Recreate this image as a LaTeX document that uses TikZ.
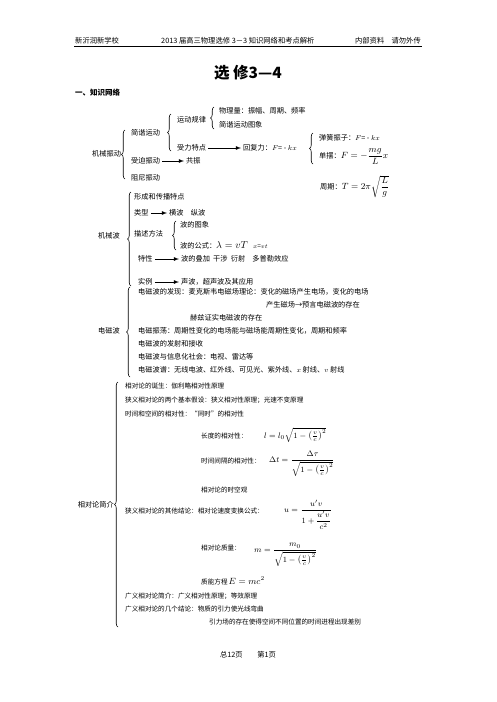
\documentclass[tikz,border=0pt]{standalone}
\usepackage{amsmath}
\usepackage{fontspec}
\setmainfont{Noto Sans CJK SC}
\usetikzlibrary{decorations.pathreplacing}
\tikzset{
  txt/.style={anchor=west,inner sep=0pt,font=\fontsize{7.2}{8}\selectfont},
  sml/.style={anchor=west,inner sep=0pt,font=\fontsize{6.6}{8}\selectfont},
  frm/.style={anchor=west,inner sep=0pt,font=\fontsize{8}{9}\selectfont},
  hdr/.style={anchor=west,inner sep=0pt,font=\fontsize{7.3}{8}\selectfont},
  brc/.style={decorate,decoration={brace,amplitude=3.5pt},line width=0.6pt},
  arr/.style={-latex,line width=0.8pt,shorten <=2pt,shorten >=2pt},
}
\newcommand{\vc}{\bigl(\tfrac{v}{c}\bigr)^{2}}
\begin{document}
\begin{tikzpicture}[x=1pt,y=-1pt]
\useasboundingbox (0,0) rectangle (496,702);
    % header
    \node[hdr] (sch) at (75,41) {新沂润新学校};
    \node[hdr] (ttlh) at (161,41) {2013 届高三物理选修 3－3 知识网络和考点解析};
    \node[hdr,anchor=east] (nbzl) at (421,41) {内部资料\quad 请勿外传};
    \draw[line width=0.8pt] (74,46.5) -- (422,46.5);
    \node[font=\fontsize{15.5}{16}\selectfont\bfseries] (ttl) at (248,73) {选\ 修3—4};
    \node[txt,font=\fontsize{7.5}{8}\selectfont\bfseries] (sec) at (75,93) {一、知识网络};
    % jixie zhendong
    \node[txt] (jxzd) at (92,154) {机械振动};
    \draw[brc] (125,179) -- (125,130);
    \node[txt] (jyyd) at (131,133) {简谐运动};
    \node[txt] (szzd) at (131,161) {受迫振动};
    \node[txt] (zndd) at (131,178) {阻尼振动};
    \node[txt] (gz) at (186,161) {共振};
    \draw[arr] (szzd) -- (gz);
    \draw[brc] (171,151) -- (171,114);
    \node[txt] (ydgl) at (177,120) {运动规律};
    \node[txt] (sltd) at (177,148) {受力特点};
    \draw[brc] (214,129) -- (214,107);
    \node[txt] (wll) at (219,111) {物理量：振幅、周期、频率};
    \node[txt] (jytx) at (219,125) {简谐运动图象};
    \node[txt] (hfl) at (243,148) {回复力：$F$= - $kx$};
    \draw[arr] (sltd) -- (hfl);
    \draw[brc] (313,164) -- (313,133);
    \node[txt] (thzz) at (319,138) {弹簧振子：$F$= - $kx$};
    \node[frm] (danb) at (319,157) {\fontsize{7.2}{8}\selectfont 单摆：\fontsize{8.6}{10}\selectfont$F=-\dfrac{mg}{L}x$};
    \node[frm] (zq) at (320,187) {\fontsize{7.2}{8}\selectfont 周期：\fontsize{8.6}{10}\selectfont$T=2\pi\sqrt{\dfrac{L}{g}}$};
    % jixie bo
    \node[txt] (jxb) at (98,236) {机械波};
    \draw[brc] (131,286) -- (131,192);
    \node[txt] (xccb) at (134,197) {形成和传播特点};
    \node[txt] (lx) at (134,213) {类型};
    \node[txt] (hbzb) at (169,213) {横波\quad 纵波};
    \draw[arr] (lx) -- (hbzb);
    \node[txt] (msff) at (134,234) {描述方法};
    \draw[brc] (176,250) -- (176,221);
    \node[txt] (bdtx) at (180,225) {波的图象};
    \node[txt] (bdgs) at (180,245) {波的公式：\fontsize{10}{11}\selectfont$\lambda=vT$};
    \node[txt,font=\fontsize{6.5}{7}\selectfont] (xvt) at (253,247) {$x$=$vt$};
    \node[txt] (tx) at (138,259) {特性};
    \node[txt] (tedj) at (181,259) {波的叠加\ \ 干涉\ \ 衍射\quad 多普勒效应};
    \draw[arr] (tx) -- (tedj);
    \node[txt] (sl) at (138,282) {实例};
    \node[txt] (sb) at (181,282) {声波，超声波及其应用};
    \draw[arr] (sl) -- (sb);
    % dianci bo
    \node[txt] (dcb) at (98,331) {电磁波};
    \draw[brc] (130,377) -- (130,287);
    \node[txt] (fx) at (138,292) {电磁波的发现：麦克斯韦电磁场理论：变化的磁场产生电场，变化的电场};
    \node[txt] (csc) at (266,305) {产生磁场→预言电磁波的存在};
    \node[txt] (hz) at (190,318) {赫兹证实电磁波的存在};
    \node[txt] (zd) at (138,331) {电磁振荡：周期性变化的电场能与磁场能周期性变化，周期和频率};
    \node[txt] (fs) at (138,344) {电磁波的发射和接收};
    \node[txt] (xx) at (138,357) {电磁波与信息化社会：电视、雷达等};
    \node[txt] (bp) at (138,370) {电磁波谱：无线电波、红外线、可见光、紫外线、$x$ 射线、$v$ 射线};
    % xiangduilun
    \node[txt,anchor=east] (xdl) at (114,505) {相对论简介};
    \draw[brc] (118,627) -- (118,382);
    \node[sml] (dsl) at (125,386) {相对论的诞生：伽利略相对性原理};
    \node[sml] (jbjs) at (125,400) {狭义相对论的两个基本假设：狭义相对性原理；光速不变原理};
    \node[sml] (tsxd) at (125,414) {时间和空间的相对性：“同时”的相对性};
    \node[sml] (cdxd) at (201,436) {长度的相对性：};
    \node[frm] (cdgs) at (264,435) {$l=l_0\sqrt{1-\vc}$};
    \node[sml] (sjxd) at (201,461) {时间间隔的相对性：};
    \node[frm] (sjgs) at (269,464) {$\Delta t=\dfrac{\Delta\tau}{\sqrt{1-\vc}}$};
    \node[sml] (skg) at (201,490) {相对论的时空观};
    \node[sml] (qtjl) at (125,511) {狭义相对论的其他结论：相对论速度变换公式：};
    \node[frm] (sdgs) at (284,515) {$u=\dfrac{u'v}{1+\dfrac{u'v}{c^2}}$};
    \node[sml] (zl) at (201,548) {相对论质量：};
    \node[frm] (zlgs) at (254,555) {$m=\dfrac{m_0}{\sqrt{1-\vc}}$};
    \node[sml] (zn) at (201,581) {质能方程\,\fontsize{9}{10}\selectfont$E=mc^2$};
    \node[sml] (gyjj) at (125,596) {广义相对论简介：广义相对性原理；等效原理};
    \node[sml] (gyjl) at (125,609) {广义相对论的几个结论：物质的引力使光线弯曲};
    \node[sml] (ylc) at (209,622) {引力场的存在使得空间不同位置的时间进程出现差别};
    % footer
    \node[hdr,anchor=center] (ym) at (248,655) {总12页\qquad 第1页};
\end{tikzpicture}
\end{document}
